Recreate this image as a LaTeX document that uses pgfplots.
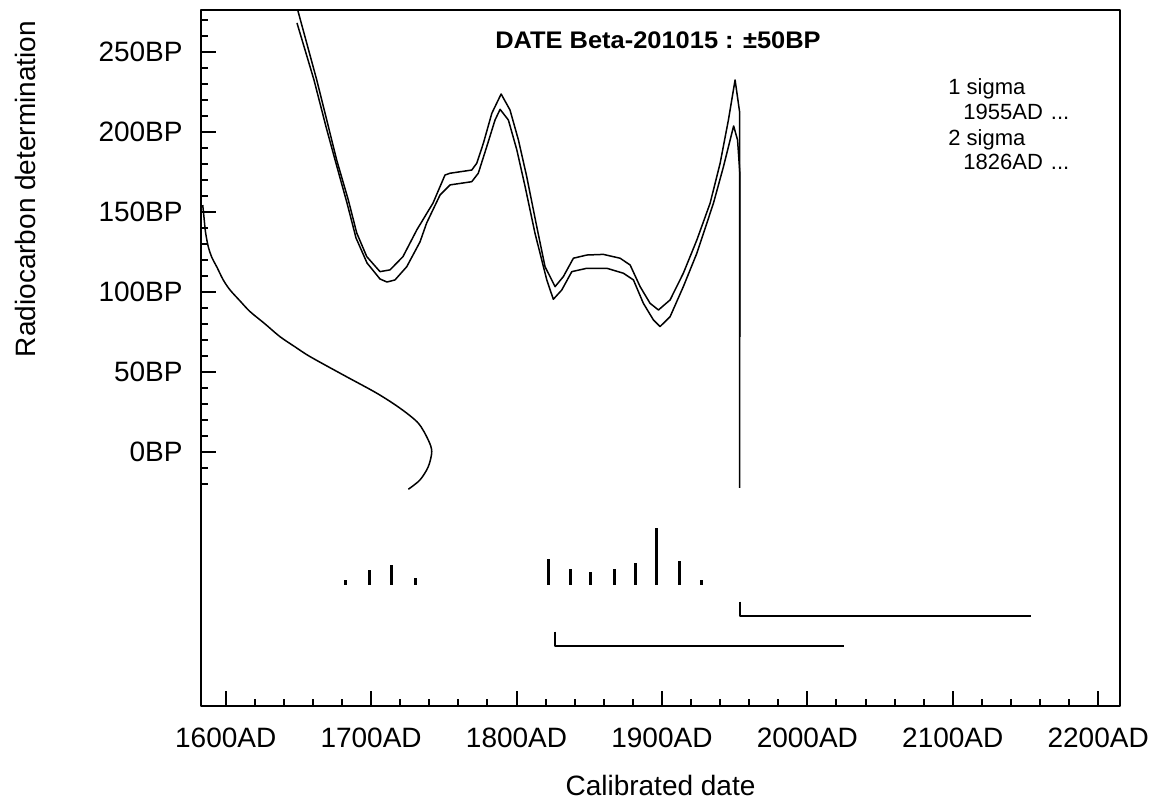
\documentclass[border=0pt]{standalone}
\usepackage{pgfplots}
\pgfplotsset{compat=1.18}
\usepackage{fontspec}
\setmainfont{Liberation Sans}

\begin{document}
\begin{tikzpicture}
\begin{axis}[
    scale only axis,
    width=459.5pt, height=348pt,
    xmin=1583, xmax=2215,
    ymin=-159.2, ymax=276.5,
    axis line style={line width=1pt},
    tick style={line width=1pt, black},
    tick align=inside,
    xtick pos=bottom, ytick pos=left,
    xtick={1600,1700,...,2200},
    xticklabels={1600AD,1700AD,1800AD,1900AD,2000AD,2100AD,2200AD},
    minor xtick={1620,1640,...,2180},
    ytick={0,50,...,250},
    yticklabels={0BP,50BP,100BP,150BP,200BP,250BP},
    minor ytick={-20,-10,...,270},
    major tick length=7.5pt, minor tick length=3.5pt,
    tick label style={font=\fontsize{14}{16}\selectfont, inner sep=0pt},
    xticklabel style={anchor=north, yshift=-11pt},
    yticklabel style={anchor=east, xshift=-9pt},
    xlabel={Calibrated date},
    ylabel={Radiocarbon determination},
    every axis x label/.style={at={(rel axis cs:0.5,-0.0985)}, anchor=north,
        inner sep=0pt, font=\fontsize{14}{16}\selectfont},
    every axis y label/.style={at={(rel axis cs:-0.1915,0.7428)}, rotate=90,
        anchor=center, inner sep=0pt, font=\fontsize{14}{16}\selectfont},
    line join=round,
]
% calibration curve, upper edge
\addplot[black, line width=0.75pt] coordinates {
 (1649.5,276.5) (1662.6,232.7) (1670.6,203.5) (1676.3,182.6) (1684.3,157.6)
 (1690.1,136.9) (1697.0,122.1) (1706.1,112.7) (1713.0,113.8) (1721.9,122.1)
 (1731.4,138.8) (1742.6,155.7) (1750.8,173.2) (1754.3,174.3) (1769.2,176.3)
 (1772.6,180.5) (1777.2,193.1) (1783.0,211.8) (1789.4,223.9) (1795.5,213.9)
 (1801.3,195.1) (1807.0,172.2) (1813.9,140.9) (1819.6,115.8) (1826.5,103.3)
 (1832.2,109.6) (1839.1,121.1) (1848.3,123.1) (1859.7,123.5) (1871.2,121.1)
 (1878.1,116.9) (1885.0,103.3) (1891.8,92.9) (1897.6,88.7) (1905.6,95.0)
 (1914.7,111.7) (1924.0,132.5) (1933.1,155.5) (1940.0,180.5) (1945.7,207.6)
 (1950.3,232.7) (1953.4,212.7) (1953.4,-22.7)};
% calibration curve, lower edge
\addplot[black, line width=0.75pt] coordinates {
 (1649.0,268.4) (1660.7,232.7) (1669.0,203.3) (1675.2,182.6) (1683.4,155.7)
 (1689.6,133.8) (1697.2,118.1) (1706.1,108.1) (1710.9,106.2) (1716.4,107.5)
 (1724.5,115.8) (1733.6,131.3) (1738.2,143.2) (1747.4,160.7) (1754.3,167.0)
 (1769.2,169.0) (1773.7,174.3) (1779.5,190.9) (1785.2,207.6) (1788.7,214.3)
 (1794.4,207.6) (1800.2,188.9) (1805.9,165.9) (1812.7,136.7) (1820.8,107.5)
 (1825.3,95.4) (1831.1,101.2) (1838.0,112.7) (1848.3,114.8) (1862.1,114.8)
 (1873.5,111.7) (1880.4,107.5) (1887.2,92.9) (1894.1,82.5) (1898.7,78.3)
 (1905.6,84.5) (1914.7,103.3) (1924.0,124.2) (1935.4,155.5) (1942.3,178.4)
 (1949.3,203.9) (1952.0,195.1) (1953.6,174.0) (1953.6,71.8)};
% radiocarbon measurement
\addplot[black, line width=0.75pt, smooth] coordinates {
 (1584.2,154.4) (1585.1,146.3) (1586.1,137.5) (1588.0,128.3) (1590.6,121.3)
 (1593.8,115.8) (1598.3,107.5) (1603.0,101.2) (1609.8,94.4) (1616.7,87.7)
 (1627.0,80.0) (1637.3,72.0) (1647.7,65.6) (1658.0,59.5) (1680.9,48.0)
 (1703.9,36.6) (1719.9,27.2) (1732.5,17.8) (1739.3,7.3) (1741.7,0)
 (1739.3,-9.4) (1733.6,-17.7) (1725.6,-23.5)};
% calibrated probability
\addplot[black, line width=1.5pt, unbounded coords=jump] coordinates {
 (1682.7,-83.4) (1682.7,-80.3) (1682.7,nan)
 (1699.2,-83.4) (1699.2,-74.0) (1699.2,nan)
 (1714.2,-83.4) (1714.2,-70.9) (1714.2,nan)
 (1730.2,-83.4) (1730.2,-79.0) (1730.2,nan)
 (1821.9,-83.4) (1821.9,-67.3) (1821.9,nan)
 (1836.8,-83.4) (1836.8,-73.6) (1836.8,nan)
 (1851.1,-83.4) (1851.1,-75.1) (1851.1,nan)
 (1867.1,-83.4) (1867.1,-73.6) (1867.1,nan)
 (1881.5,-83.4) (1881.5,-69.8) (1881.5,nan)
 (1896.5,-83.4) (1896.5,-47.9) (1896.5,nan)
 (1912.0,-83.4) (1912.0,-68.4) (1912.0,nan)
 (1926.9,-83.4) (1926.9,-80.3)};
% sigma ranges
\addplot[black, line width=1pt] coordinates {(1953.8,-93.9) (1953.8,-102.8) (2153.9,-102.8)};
\addplot[black, line width=1pt] coordinates {(1826.5,-112.6) (1826.5,-121.6) (2025.3,-121.6)};

\node[anchor=base, inner sep=0pt, font=\fontsize{12}{14}\selectfont\bfseries]
  at (rel axis cs:0.4973,0.945) {\scalebox{1.06}[1]{DATE Beta-201015 : ±50BP}};
\node[anchor=base west, inner sep=0pt, font=\fontsize{11}{13}\selectfont]
  at (rel axis cs:0.8128,0.8779) {1 sigma};
\node[anchor=base west, inner sep=0pt, font=\fontsize{11}{13}\selectfont]
  at (rel axis cs:0.8292,0.8420) {1955AD\hspace{4pt}...};
\node[anchor=base west, inner sep=0pt, font=\fontsize{11}{13}\selectfont]
  at (rel axis cs:0.8128,0.8060) {2 sigma};
\node[anchor=base west, inner sep=0pt, font=\fontsize{11}{13}\selectfont]
  at (rel axis cs:0.8292,0.7701) {1826AD\hspace{4pt}...};
\coordinate (bl) at (rel axis cs:0,0);
\end{axis}
\pgfresetboundingbox
\path (bl) ++(-100.5pt,-47.5pt) rectangle ++(576pt,400.5pt);
\end{tikzpicture}
\end{document}
